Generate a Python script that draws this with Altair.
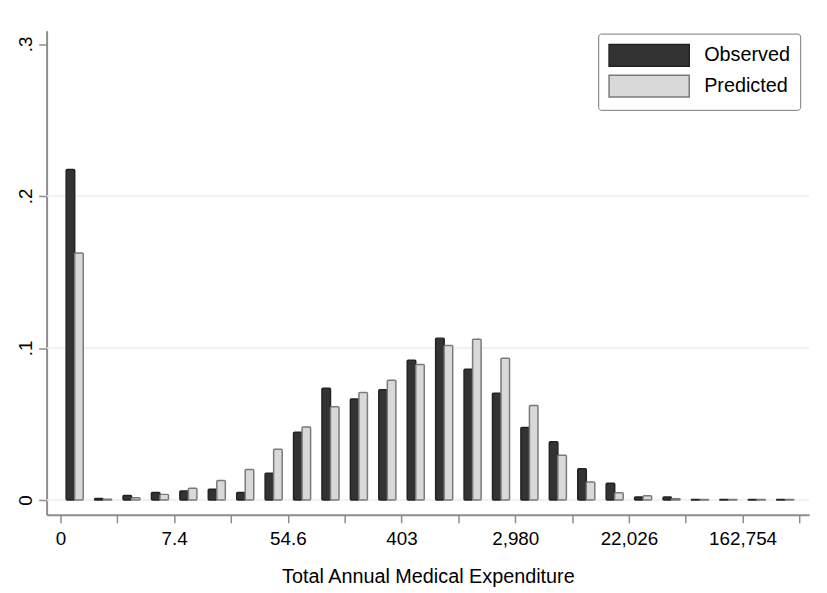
import json
import altair as alt
import pandas as pd

# Bin centres on the log(expenditure) scale
bin_centers = [0.25, 0.75, 1.25, 1.75, 2.25, 2.75, 3.25, 3.75, 4.25, 4.75,
               5.25, 5.75, 6.25, 6.75, 7.25, 7.75, 8.25, 8.75, 9.25, 9.75,
               10.25, 10.75, 11.25, 11.75, 12.25, 12.75]
observed = [0.2174, 0.0010, 0.0030, 0.0050, 0.0060, 0.0070, 0.0050, 0.0176, 0.0445, 0.0735,
            0.0665, 0.0725, 0.0920, 0.1065, 0.0860, 0.0703, 0.0477, 0.0383, 0.0206, 0.0110,
            0.0020, 0.0020, 0.0004, 0.0004, 0.0004, 0.0004]
predicted = [0.1625, 0.0005, 0.0015, 0.0037, 0.0078, 0.0128, 0.0200, 0.0334, 0.0480, 0.0614,
             0.0707, 0.0788, 0.0892, 0.1016, 0.1057, 0.0933, 0.0622, 0.0294, 0.0118, 0.0047,
             0.0028, 0.0008, 0.0004, 0.0004, 0.0004, 0.0004]
series_names = ["Observed", "Predicted"]

x_tick_values = [0, 1, 2, 3, 4, 5, 6, 7, 8, 9, 10, 11, 12, 13]
x_tick_labels = ["0", "7.4", "54.6", "403", "2,980", "22,026", "162,754"]
y_tick_values = [0, 0.1, 0.2, 0.3]
y_tick_labels = ["0", ".1", ".2", ".3"]
grid_values = [0, 0.1, 0.2]

rows = []
for c, o, p in zip(bin_centers, observed, predicted):
    rows.append({"center": c, "series": series_names[0], "share": o})
    rows.append({"center": c, "series": series_names[1], "share": p})
df = pd.DataFrame(rows)

FONT = "Liberation Sans"
AXIS_GRAY = "#8c8c8c"

x_scale = alt.Scale(domain=[-0.244, 13.17], nice=False, zero=False)
y_scale = alt.Scale(domain=[-0.00977, 0.3088], nice=False, zero=False)

x_label_expr = (
    "datum.value % 2 == 0 ? " + json.dumps(x_tick_labels) + "[datum.value / 2] : ''"
)
y_label_expr = json.dumps(y_tick_labels) + "[round(datum.value * 10)]"

y_axis = alt.Axis(
    values=y_tick_values,
    labelExpr=y_label_expr,
    labelAngle=270,
    labelAlign="center",
    labelBaseline="bottom",
    labelPadding=3,
)

grid = alt.Chart(pd.DataFrame({"g": grid_values})).mark_rule(
    color="#e7eff0", strokeWidth=1.5
).encode(
    y=alt.Y("g:Q", scale=y_scale, title=None, axis=y_axis)
)

bars = alt.Chart(df).transform_calculate(
    x0="datum.series == 'Observed' ? datum.center - 0.15 : datum.center",
    x1="datum.series == 'Observed' ? datum.center : datum.center + 0.15",
).mark_bar(strokeWidth=1.5, cornerRadius=1).encode(
    x=alt.X(
        "x0:Q",
        scale=x_scale,
        title="Total Annual Medical Expenditure",
        axis=alt.Axis(
            values=x_tick_values,
            labelExpr=x_label_expr,
            labelPadding=7,
            titlePadding=18,
        ),
    ),
    x2="x1:Q",
    y=alt.Y("share:Q", scale=y_scale, title=None, axis=y_axis),
    y2=alt.datum(0),
    color=alt.Color(
        "series:N",
        scale=alt.Scale(domain=series_names, range=["#333333", "#d9d9d9"]),
        title=None,
        legend=alt.Legend(
            orient="none",
            legendX=557,
            legendY=3,
            symbolType="M-1,-1H6.36V1H-1Z",
            symbolSize=484,
            symbolStrokeWidth=1.5,
            labelFontSize=20,
            labelFont=FONT,
            labelColor="black",
            labelOffset=73,
            labelLimit=300,
            rowPadding=3,
            padding=10,
            strokeColor="#777777",
            fillColor="white",
            cornerRadius=3,
        ),
    ),
    stroke=alt.Stroke(
        "series:N",
        scale=alt.Scale(domain=series_names, range=["#222222", "#7a7a7a"]),
        title=None,
    ),
)

chart = alt.layer(grid, bars).properties(
    width=770,
    height=489,
    autosize=alt.AutoSizeParams(type="none"),
    padding={"left": 39, "top": 20, "right": 10, "bottom": 70},
).configure_view(
    stroke=None
).configure_axis(
    grid=False,
    domainColor=AXIS_GRAY,
    domainWidth=2,
    tickColor=AXIS_GRAY,
    tickWidth=1.5,
    tickSize=8,
    labelFont=FONT,
    labelFontSize=19,
    labelColor="black",
    titleFont=FONT,
    titleFontSize=20,
    titleFontWeight="normal",
    titleColor="black",
)

chart.save("out.html", embed_options={"renderer": "svg", "actions": False})
